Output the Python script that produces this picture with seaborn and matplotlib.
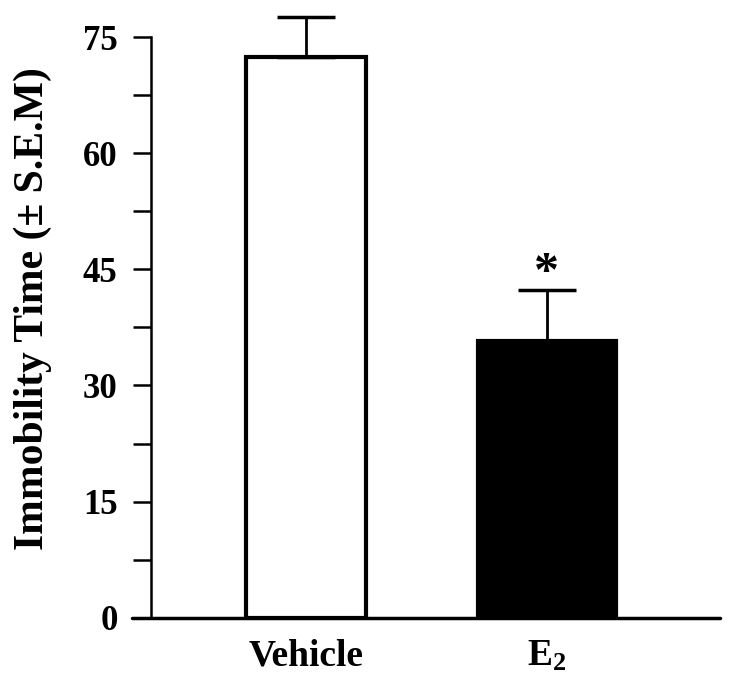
import matplotlib
matplotlib.use("Agg")
import matplotlib.pyplot as plt
import numpy as np
import pandas as pd
import seaborn as sns

# datos
groups = ["Vehicle", r"$\mathbf{E_2}$"]
means = [72.4, 35.8]
sems = [5.25, 6.55]
star_y = 44.4
y_major = [0, 15, 30, 45, 60, 75]
y_minor = [7.5, 22.5, 37.5, 52.5, 67.5]

sns.set_theme(style="white")
plt.rcParams["font.family"] = ["Liberation Serif", "DejaVu Serif"]
plt.rcParams["font.weight"] = "bold"
plt.rcParams["mathtext.fontset"] = "custom"
plt.rcParams["mathtext.bf"] = "Liberation Serif:bold"
plt.rcParams["mathtext.rm"] = "Liberation Serif:bold"
for k in ["text.color", "axes.labelcolor", "xtick.color", "ytick.color"]:
    plt.rcParams[k] = "black"

df = pd.DataFrame({"group": groups, "immobility": means})

fig = plt.figure(figsize=(7.33, 6.93), dpi=100)
ax = fig.add_axes([0.18, 0.1087, 0.802, 0.8913])

sns.barplot(
    data=df, x="group", y="immobility", hue="group",
    palette=["white", "black"], edgecolor="black", linewidth=3,
    width=0.55, legend=False, ax=ax
)

# anchos distintos como en el original
for p, w in zip(ax.patches, [0.50, 0.575]):
    c = p.get_x() + p.get_width() / 2
    p.set_width(w)
    p.set_x(c - w / 2)

ax.errorbar(
    [0, 1], means, yerr=[[0, 0], sems], fmt="none",
    ecolor="black", elinewidth=2, capsize=21, capthick=2.5, zorder=1
)
ax.text(1, star_y, "*", ha="center", va="center", fontsize=36, fontweight="bold")

ax.set_xlim(-0.722, 1.718)
ax.set_ylim(0, 79.8)
ax.set_yticks(y_major)
ax.set_yticks(y_minor, minor=True)

# eje x: linea que pasa a la izquierda del eje y
ax.axhline(0, color="black", linewidth=2.5, clip_on=False, zorder=3)

for s in ["top", "right", "bottom"]:
    ax.spines[s].set_visible(False)
ax.spines["left"].set_position(("data", -0.643))
ax.spines["left"].set_bounds(0, 75)
ax.spines["left"].set_linewidth(1.8)
ax.spines["left"].set_color("black")

ax.tick_params(axis="y", which="both", direction="out", length=13, width=1.8,
               color="black", left=True, labelsize=25, pad=11)
ax.tick_params(axis="x", length=0, labelsize=27, pad=15)

ax.set_xlabel("")
ax.set_ylabel("Immobility Time (± S.E.M)", fontsize=30, fontweight="bold", labelpad=22)

fig.savefig("out.png", dpi=100)
